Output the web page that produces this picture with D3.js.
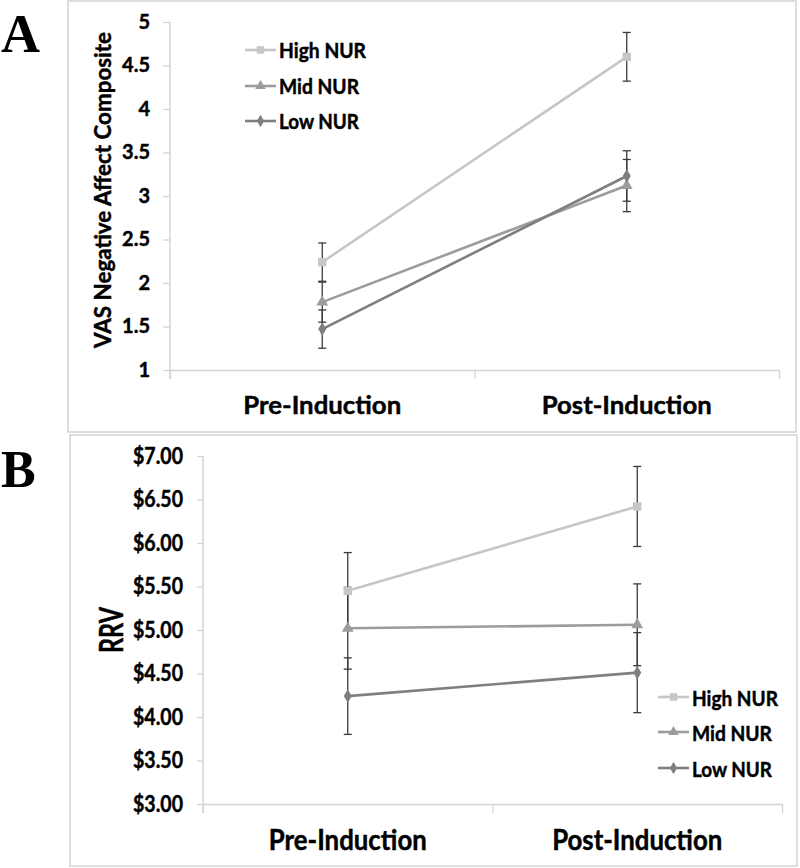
<!DOCTYPE html>
<html><head><meta charset="utf-8">
<script src="https://cdn.jsdelivr.net/npm/d3@7"></script>
<style>body{margin:0;background:#fff} svg{display:block} .bt{stroke:#000;stroke-width:0.45px;paint-order:stroke}</style>
</head><body><svg id="c" width="800" height="868"></svg>
<script>
// ---- data ----
const categories = ["Pre-Induction", "Post-Induction"];
const seriesNames = ["High NUR", "Mid NUR", "Low NUR"];
const vasHigh = [2.24, 4.60];
const vasMid  = [1.78, 3.12];
const vasLow  = [1.47, 3.23];
const vasHighErr = [0.22, 0.28];
const vasMidErr  = [0.23, 0.30];
const vasLowErr  = [0.22, 0.29];
const rrvHigh = [5.45, 6.42];
const rrvMid  = [5.02, 5.06];
const rrvLow  = [4.24, 4.51];
const rrvHighErr = [0.44, 0.46];
const rrvMidErr  = [0.47, 0.47];
const rrvLowErr  = [0.44, 0.46];
const vasTicks = [1, 1.5, 2, 2.5, 3, 3.5, 4, 4.5, 5];
const rrvTicks = [3, 3.5, 4, 4.5, 5, 5.5, 6, 6.5, 7];

const svg = d3.select("#c");
const FONT = "Lato, 'Open Sans', sans-serif";
const seriesColor = ["#c6c6c6", "#9c9c9c", "#7f7f7f"];
const seriesSymbol = [d3.symbolSquare, d3.symbolTriangle, d3.symbolDiamond];
const symSize = [70, 60, 55];

function drawPanel(o) {
  const g = svg.append("g");
  g.append("rect").attr("x", o.box[0]).attr("y", o.box[1])
    .attr("width", o.box[2]).attr("height", o.box[3])
    .attr("fill", "none").attr("stroke", "#d4d4d4").attr("stroke-width", 1.5);
  g.append("text").attr("x", o.letterPos[0]).attr("y", o.letterPos[1])
    .attr("font-family", "'Liberation Serif', 'Times New Roman', serif")
    .attr("font-weight", "bold").attr("font-size", o.letterSize)
    .attr("fill", "#000").text(o.letter);

  const x = d3.scaleBand().domain(categories).range(o.xRange).padding(0);
  const xb = d3.scaleLinear().domain([0, categories.length]).range(o.xRange);
  const y = d3.scaleLinear().domain(o.yDomain).range(o.yRange);

  const ya = g.append("g").attr("transform", `translate(${o.xRange[0]},0)`)
    .call(d3.axisLeft(y).tickValues(o.yTicks).tickSize(o.yTickLen).tickSizeOuter(0)
      .tickPadding(20 - o.yTickLen).tickFormat(o.yFmt));
  ya.select(".domain").remove();
  ya.selectAll(".tick line").attr("stroke", "#d4d4d4").attr("stroke-width", 1.3);
  ya.selectAll(".tick text").attr("class", "bt").attr("font-family", FONT).attr("font-weight", "bold")
    .attr("font-size", o.yFontSize).attr("fill", "#000");
  if (o.yTextLen) ya.selectAll(".tick text").attr("textLength", o.yTextLen).attr("lengthAdjust", "spacingAndGlyphs");
  g.append("line").attr("x1", o.xRange[0]).attr("x2", o.xRange[0])
    .attr("y1", o.yRange[1]).attr("y2", o.yRange[0] + 9)
    .attr("stroke", "#d4d4d4").attr("stroke-width", 1.5);

  const xa = g.append("g").attr("transform", `translate(0,${o.yRange[0]})`)
    .call(d3.axisBottom(xb).tickValues(d3.range(categories.length + 1)).tickSize(9)
      .tickSizeOuter(0).tickFormat(""));
  xa.select(".domain").attr("stroke", "#d4d4d4").attr("stroke-width", 1.5);
  xa.selectAll(".tick line").attr("stroke", "#d4d4d4").attr("stroke-width", 1.3);
  const xl = g.append("g").attr("transform", `translate(0,${o.xLabelY})`)
    .call(d3.axisBottom(x).tickSize(0).tickPadding(0));
  xl.select(".domain").remove();
  xl.selectAll(".tick text").attr("class", "bt").attr("font-family", FONT).attr("font-weight", "bold")
    .attr("font-size", o.xFontSize).attr("fill", "#000").attr("dy", 0);
  if (o.xTextLen) xl.selectAll(".tick text").attr("textLength", (d, i) => o.xTextLen[i]).attr("lengthAdjust", "spacingAndGlyphs");

  const yt = g.append("text").attr("class", "bt")
    .attr("transform", `translate(${o.yTitlePos[0]},${o.yTitlePos[1]}) rotate(-90)`)
    .attr("text-anchor", "middle").attr("dominant-baseline", "central")
    .attr("font-family", FONT).attr("font-weight", "bold").attr("font-size", o.yTitleSize)
    .attr("fill", "#000").text(o.yTitle);
  if (o.yTitleLen) yt.attr("textLength", o.yTitleLen).attr("lengthAdjust", "spacingAndGlyphs");

  const line = d3.line().x((d, i) => x(categories[i]) + x.bandwidth() / 2).y(d => y(d));
  o.series.forEach((vals, s) => {
    const errs = o.errors[s];
    vals.forEach((v, i) => {
      const cx = x(categories[i]) + x.bandwidth() / 2;
      const e = errs[i];
      g.append("line").attr("x1", cx).attr("x2", cx).attr("y1", y(v + e)).attr("y2", y(v - e))
        .attr("stroke", "#3a3a3a").attr("stroke-width", 1.3);
      [v + e, v - e].forEach(t => g.append("line").attr("x1", cx - 4).attr("x2", cx + 4)
        .attr("y1", y(t)).attr("y2", y(t)).attr("stroke", "#3a3a3a").attr("stroke-width", 1.3));
    });
  });
  o.series.forEach((vals, s) => {
    g.append("path").datum(vals).attr("d", line).attr("fill", "none")
      .attr("stroke", seriesColor[s]).attr("stroke-width", 2.6);
    vals.forEach((v, i) => {
      g.append("path").attr("d", d3.symbol().type(seriesSymbol[s]).size(symSize[s])())
        .attr("transform", `translate(${x(categories[i]) + x.bandwidth() / 2},${y(v)})`)
        .attr("fill", seriesColor[s]);
    });
  });

  seriesNames.forEach((name, s) => {
    const ly = o.legendY[s];
    g.append("line").attr("x1", o.legendX).attr("x2", o.legendX + 31)
      .attr("y1", ly).attr("y2", ly).attr("stroke", seriesColor[s]).attr("stroke-width", 2.6);
    g.append("path").attr("d", d3.symbol().type(seriesSymbol[s]).size(symSize[s] * 0.8)())
      .attr("transform", `translate(${o.legendX + 15.5},${ly})`).attr("fill", seriesColor[s]);
    const t = g.append("text").attr("class", "bt").attr("x", o.legendX + 34).attr("y", ly)
      .attr("dominant-baseline", "central")
      .attr("font-family", FONT).attr("font-weight", "bold").attr("font-size", o.legendSize)
      .attr("fill", "#000").text(name);
    if (o.legendLen) t.attr("textLength", o.legendLen[s]).attr("lengthAdjust", "spacingAndGlyphs");
  });
}

drawPanel({
  box: [68, 1, 728, 431], letter: "A", letterPos: [1, 52], letterSize: 54,
  xRange: [170, 779], yDomain: [1, 5], yRange: [370, 22], yTicks: vasTicks, yTickLen: 7,
  yFmt: d3.format("~g"), yFontSize: 20,
  xLabelY: 414, xFontSize: 25, xTextLen: [158, 170],
  yTitle: "VAS Negative Affect Composite", yTitlePos: [102, 190], yTitleSize: 22, yTitleLen: 316,
  series: [vasHigh, vasMid, vasLow], errors: [vasHighErr, vasMidErr, vasLowErr],
  legendX: 245, legendY: [50, 86, 121], legendSize: 20, legendLen: [87, 80, 80]
});

drawPanel({
  box: [70, 435, 727, 431], letter: "B", letterPos: [1, 487], letterSize: 52,
  xRange: [203, 782], yDomain: [3, 7], yRange: [804, 456], yTicks: rrvTicks, yTickLen: 6,
  yFmt: d => "$" + d3.format(".2f")(d), yFontSize: 23, yTextLen: 50,
  xLabelY: 850, xFontSize: 28, xTextLen: [158, 170],
  yTitle: "RRV", yTitlePos: [110, 630], yTitleSize: 32, yTitleLen: 46,
  series: [rrvHigh, rrvMid, rrvLow], errors: [rrvHighErr, rrvMidErr, rrvLowErr],
  legendX: 658, legendY: [697, 732, 768], legendSize: 21, legendLen: [86, 80, 80]
});
</script></body></html>
